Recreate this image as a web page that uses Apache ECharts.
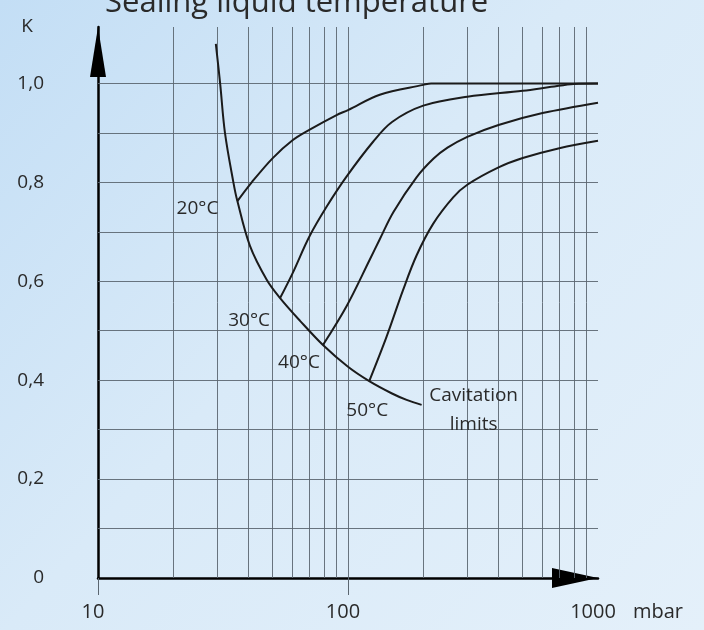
<!DOCTYPE html>
<html>
<head>
<meta charset="utf-8">
<script src="https://cdn.jsdelivr.net/npm/echarts@6/dist/echarts.min.js"></script>
<style>
  html, body { margin: 0; padding: 0; }
  #chart { width: 704px; height: 630px; }
</style>
</head>
<body>
<div id="chart"></div>
<script>
// ---- data ----
const titleText = 'Sealing liquid temperature';
const xLabels = [10, 100, 1000];
const xMajorTicks = [10, 100];
const yLabels = [0, 0.2, 0.4, 0.6, 0.8, 1.0];
const hGrid = [0.1, 0.2, 0.3, 0.4, 0.5, 0.6, 0.7, 0.8, 0.9, 1.0];
const vGrid = [20, 30, 40, 50, 60, 70, 80, 90, 100, 200, 300, 400, 500, 600, 700, 800, 900];

const cavX = [29.6, 30.8, 32.2, 34.8, 36.1, 40.5, 47.3, 53.5, 64.3, 79.4, 100, 121.6, 150, 171.6, 197];
const cavK = [1.08, 1.0, 0.9, 0.8, 0.762, 0.672, 0.603, 0.566, 0.52, 0.471, 0.427, 0.398, 0.373, 0.36, 0.35];

const t20X = [36.1, 41.2, 50, 60, 70, 90, 100, 134, 200, 215, 400, 1000];
const t20K = [0.762, 0.8, 0.849, 0.885, 0.906, 0.936, 0.946, 0.977, 0.997, 1.0, 1.0, 1.0];

const t30X = [53.5, 60, 70, 82.2, 98.8, 126, 150, 200, 300, 500, 650, 800, 1000];
const t30K = [0.566, 0.616, 0.69, 0.751, 0.812, 0.882, 0.922, 0.955, 0.973, 0.985, 0.993, 0.999, 1.0];

const t40X = [79.4, 98.8, 122, 134, 152, 188, 220, 250, 300, 400, 600, 1000];
const t40K = [0.471, 0.55, 0.643, 0.685, 0.74, 0.81, 0.848, 0.87, 0.892, 0.916, 0.94, 0.961];

const t50X = [121.6, 142.7, 166, 188, 219, 264, 300, 400, 500, 700, 1000];
const t50K = [0.398, 0.488, 0.582, 0.652, 0.716, 0.77, 0.795, 0.83, 0.849, 0.869, 0.884];

const curveLabels = ['20°C', '30°C', '40°C', '50°C'];
const cavLabel = 'Cavitation\nlimits';

// ---- build ----
const FONT = '"Open Sans", "Noto Sans", sans-serif';
const TXT = '#2a2a2a';
const GRIDC = '#5b6670';
const CURVE = '#1b1b1b';

function pairs(xs, ys) { return xs.map((x, i) => [x, ys[i]]); }

function curveSeries(name, data) {
  return {
    type: 'line', name: name, data: data, smooth: 0.35, z: 5,
    symbol: 'circle', symbolSize: 0, showSymbol: true, showAllSymbol: true,
    itemStyle: { color: CURVE },
    lineStyle: { color: CURVE, width: 2 },
    label: { show: false },
    emphasis: { disabled: true }
  };
}

function tempSeries(xs, ys, name, lbl) {
  const data = pairs(xs, ys);
  data[0] = { value: data[0], label: Object.assign({ show: true, formatter: name, fontSize: 19, color: TXT, fontFamily: FONT }, lbl) };
  return curveSeries(name, data);
}

const cavData = pairs(cavX, cavK);
cavData[cavData.length - 1] = {
  value: cavData[cavData.length - 1],
  label: { show: true, formatter: cavLabel, position: 'right', distance: 52, align: 'center',
           offset: [0, 5], lineHeight: 29, fontSize: 19, color: TXT, fontFamily: FONT }
};

const chart = echarts.init(document.getElementById('chart'), null, { renderer: 'canvas' });
chart.setOption({
  animation: false,
  backgroundColor: {
    type: 'linear', x: 0, y: 0, x2: 1, y2: 1,
    colorStops: [
      { offset: 0, color: '#c3def5' },
      { offset: 0.45, color: '#d9eaf8' },
      { offset: 1, color: '#e4f0fa' }
    ]
  },
  title: {
    text: titleText, left: 100, top: -17,
    textStyle: { fontSize: 31, fontWeight: 'normal', color: TXT, fontFamily: FONT }
  },
  grid: { left: 98, right: 106, top: 27, bottom: 52, containLabel: false },
  xAxis: {
    type: 'log', logBase: 10, min: 10, max: 1000,
    name: 'mbar', nameLocation: 'end', nameGap: 35,
    nameTextStyle: { fontSize: 20, color: TXT, fontFamily: FONT, padding: [24, 0, 0, 0], verticalAlign: 'top', align: 'left' },
    axisLine: { show: true, lineStyle: { color: '#000', width: 2.5 }, symbol: ['none', 'triangle'], symbolSize: [20, 46], symbolOffset: [0, -23] },
    axisTick: { show: true, customValues: xMajorTicks, length: 17, lineStyle: { color: GRIDC, width: 1 } },
    axisLabel: { customValues: xLabels, fontSize: 20, color: TXT, fontFamily: FONT, margin: 24, padding: [0, 10, 0, 0],
                 formatter: v => String(v) },
    splitLine: { show: false }
  },
  yAxis: {
    type: 'value', min: 0, max: 1.114,
    name: 'K', nameLocation: 'end', nameGap: 0,
    nameTextStyle: { fontSize: 19, color: TXT, fontFamily: FONT, align: 'center', verticalAlign: 'middle', padding: [0, 142, 0, 0] },
    axisLine: { show: true, lineStyle: { color: '#000', width: 2.5 }, symbol: ['none', 'triangle'], symbolSize: [16, 50], symbolOffset: [0, -25] },
    axisTick: { show: false },
    axisLabel: {
      customValues: yLabels, fontSize: 19, color: TXT, fontFamily: FONT, margin: 54,
      formatter: v => v === 0 ? '0' : v.toFixed(1).replace('.', ',')
    },
    splitLine: { show: false }
  },
  series: [
    {
      type: 'line', name: 'grid', data: [], silent: true, z: 1,
      markLine: {
        silent: true, symbol: ['none', 'none'], animation: false,
        label: { show: false },
        lineStyle: { color: GRIDC, width: 1, type: 'solid', opacity: 0.9 },
        emphasis: { disabled: true },
        data: hGrid.map(v => ({ yAxis: v })).concat(vGrid.map(v => ({ xAxis: v })))
      }
    },
    curveSeries('Cavitation limits', cavData),
    tempSeries(t20X, t20K, curveLabels[0], { position: 'left', distance: 19, offset: [0, 7] }),
    tempSeries(t30X, t30K, curveLabels[1], { position: 'left', distance: 10, offset: [0, 23] }),
    tempSeries(t40X, t40K, curveLabels[2], { position: 'left', distance: 3, offset: [0, 18] }),
    tempSeries(t50X, t50K, curveLabels[3], { position: 'bottom', distance: 20, offset: [-2, 0] })
  ]
});
</script>
</body>
</html>
